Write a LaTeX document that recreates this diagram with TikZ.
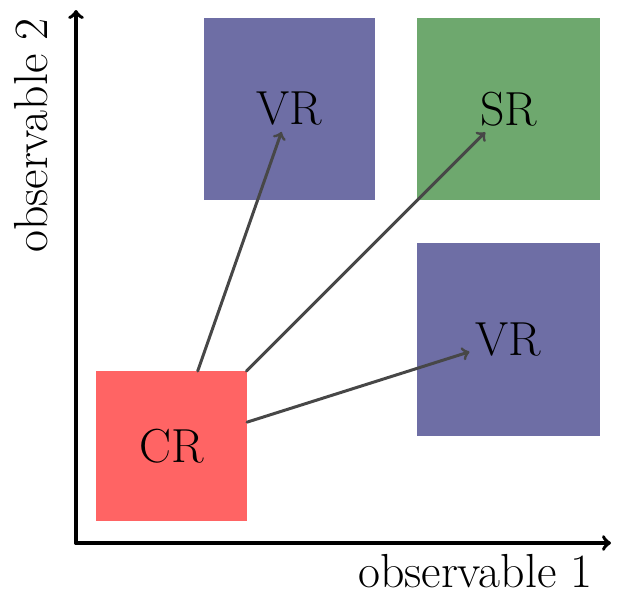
\documentclass[tikz,border=0pt]{standalone}
\usepackage{xcolor}
\usepackage{tikz}
\usetikzlibrary{arrows,positioning}
\definecolor{vrblue}{RGB}{110,110,165}
\definecolor{srgreen}{RGB}{110,168,110}
\definecolor{crred}{RGB}{255,100,100}
\tikzset{region/.style={inner sep=0pt, outer sep=0pt}}
\tikzset{reach/.style={->, black!72, line width=1.7pt}}

\begin{document}
\begin{tikzpicture}[line cap=round, line join=round, font=\fontsize{27.2}{32}\selectfont]
      \useasboundingbox (-1.52,-1.22) rectangle (10.94,10.86);
      % regions
      \node [region, fill=crred, minimum width=3.02cm, minimum height=3cm] (cr) at (1.91,1.94) {};
      \node [region, fill=vrblue, minimum width=3.42cm, minimum height=3.64cm] (vrtop) at (4.27,8.68) {};
      \node [region, fill=srgreen, minimum width=3.66cm, minimum height=3.64cm] (sr) at (8.65,8.68) {};
      \node [region, fill=vrblue, minimum width=3.66cm, minimum height=3.86cm] (vrright) at (8.65,4.07) {};
      \node (crlabel) at (cr) {CR};
      \node (vrtoplabel) at (vrtop) {VR};
      \node (srlabel) at (sr) {SR};
      \node (vrrightlabel) at (vrright) {VR};
      \draw [reach] (cr) -- (vrtoplabel);
      \draw [reach] (cr) -- (srlabel);
      \draw [reach] (cr) -- (vrrightlabel);
      % axes
      \coordinate (o) at (0,0);
      \coordinate (xend) at (10.7,0);
      \coordinate (yend) at (0,10.66);
      \draw [->, line width=2.1pt] (o) -- (xend);
      \draw [->, line width=2.1pt] (o) -- (yend);
      \node [anchor=north east, xshift=-0.24cm, yshift=-0.1cm] (xlabel) at (xend) {observable 1};
      \node [xshift=-0.44cm, yshift=-0.04cm, rotate=90, anchor=south east] (ylabel) at (yend) {observable 2};
\end{tikzpicture}
\end{document}
